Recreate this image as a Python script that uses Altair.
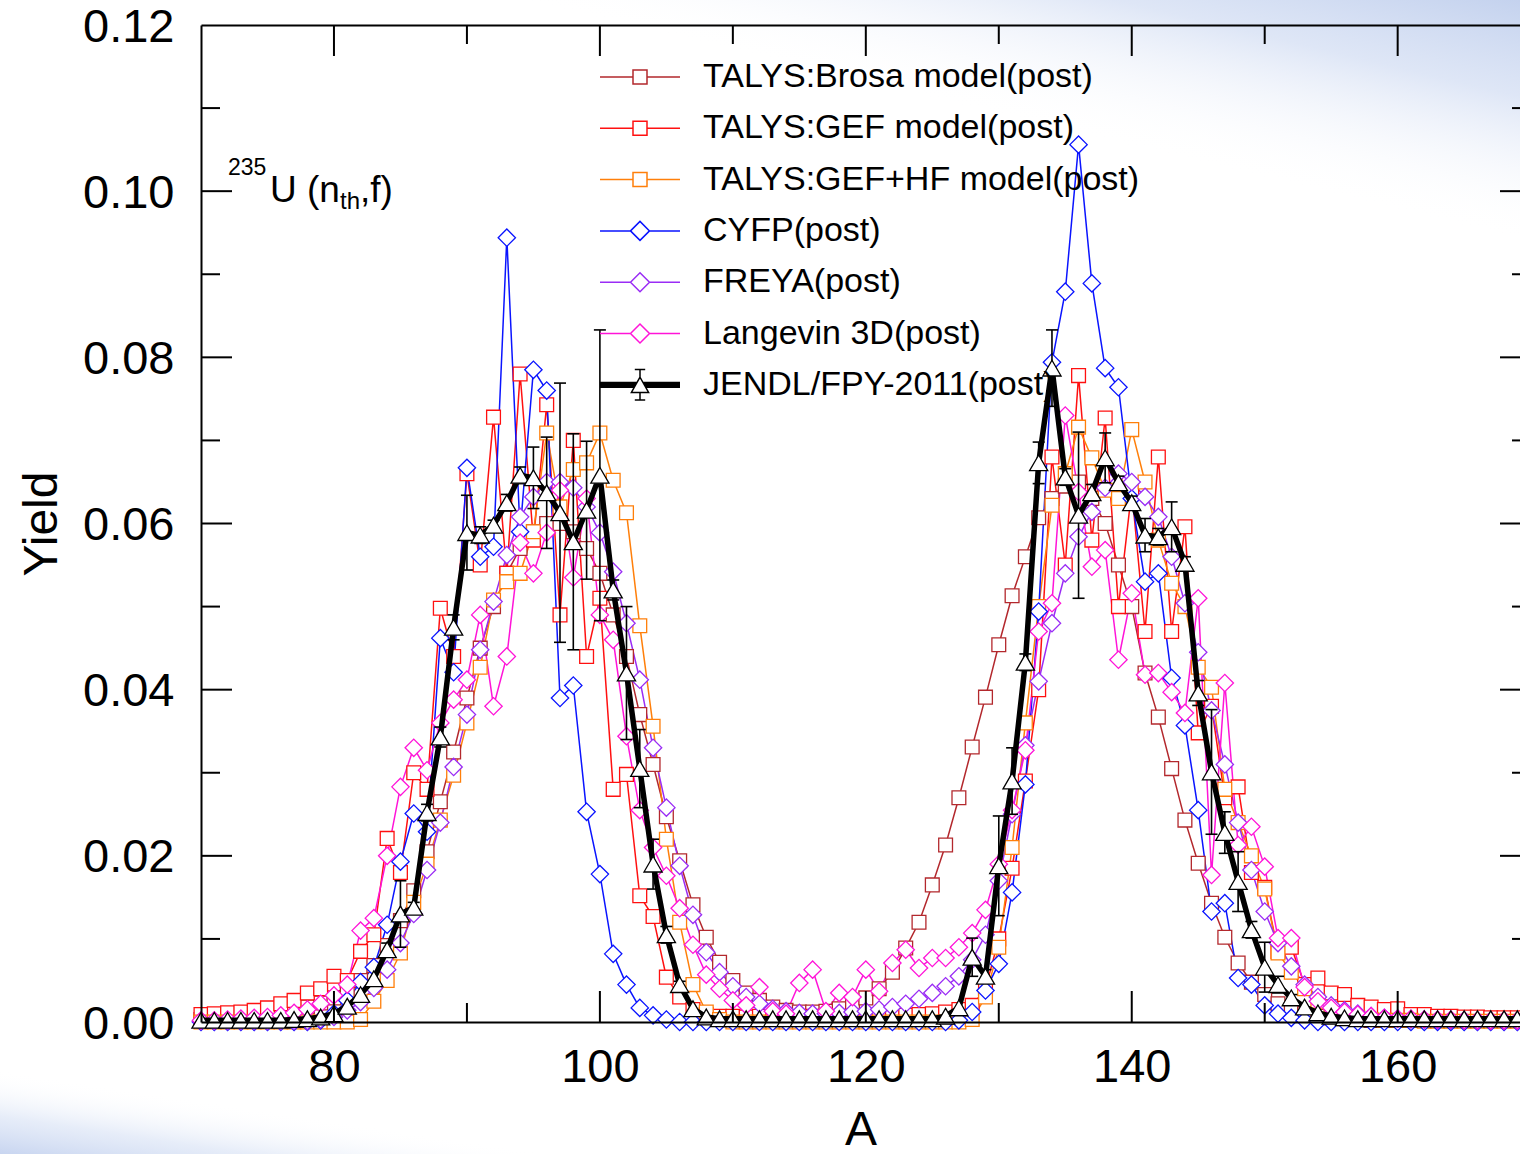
import altair as alt
import pandas as pd

# ---------------- data ----------------
A = list(range(70, 171))

names = [
    "TALYS:Brosa model(post)",
    "TALYS:GEF model(post)",
    "TALYS:GEF+HF model(post)",
    "CYFP(post)",
    "FREYA(post)",
    "Langevin 3D(post)",
    "JENDL/FPY-2011(post)",
]
colors = ["#b3282d", "#ff1010", "#ff7f0a", "#0a14ff", "#9a2cf5", "#ff14d8", "#000000"]

brosa = [
    0.0003, 0.0004, 0.0005, 0.0006, 0.0007, 0.0009, 0.0011, 0.0014, 0.0018, 0.0023,
    0.0029, 0.0038, 0.0050, 0.0068, 0.0092, 0.0122, 0.0158, 0.0205, 0.0265, 0.0325,
    0.0390, 0.0450, 0.0500, 0.0540, 0.0570, 0.0590, 0.0600, 0.0600, 0.0590, 0.0570,
    0.0540, 0.0490, 0.0440, 0.0370, 0.0310, 0.0247, 0.0194, 0.0141, 0.0102, 0.0072,
    0.0050, 0.0035, 0.0026, 0.0018, 0.0014, 0.0012, 0.0012, 0.0013, 0.0016, 0.0021,
    0.0029, 0.0040, 0.0060, 0.0089, 0.0120, 0.0165, 0.0213, 0.0270, 0.0331, 0.0391,
    0.0454, 0.0513, 0.0560, 0.0607, 0.0630, 0.0645, 0.0650, 0.0630, 0.0600, 0.0550,
    0.0500, 0.0420, 0.0367, 0.0305, 0.0243, 0.0191, 0.0143, 0.0102, 0.0071, 0.0048,
    0.0033, 0.0022, 0.0015, 0.0010, 0.0007, 0.0005, 0.0004, 0.0003, 0.0002, 0.0002,
    0.0002, 0.0002, 0.0002, 0.0002, 0.0002, 0.0002, 0.0002, 0.0002, 0.0002, 0.0002,
    0.0002,
]
gef = [
    0.0009, 0.0010, 0.0011, 0.0012, 0.0014, 0.0017, 0.0022, 0.0026, 0.0035, 0.0040,
    0.0055, 0.0050, 0.0085, 0.0105, 0.0221, 0.0180, 0.0300, 0.0280, 0.0498, 0.0440,
    0.0660, 0.0550, 0.0728, 0.0540, 0.0780, 0.0580, 0.0743, 0.0490, 0.0700, 0.0440,
    0.0510, 0.0280, 0.0298, 0.0152, 0.0127, 0.0054, 0.0030, 0.0015, 0.0009, 0.0007,
    0.0007, 0.0006, 0.0007, 0.0006, 0.0007, 0.0006, 0.0007, 0.0006, 0.0007, 0.0007,
    0.0007, 0.0007, 0.0008, 0.0008, 0.0009, 0.0010, 0.0012, 0.0015, 0.0020, 0.0040,
    0.0100, 0.0185, 0.0290, 0.0400, 0.0680, 0.0550, 0.0778, 0.0580, 0.0727, 0.0500,
    0.0640, 0.0470, 0.0680, 0.0470, 0.0596, 0.0348, 0.0380, 0.0270, 0.0283, 0.0180,
    0.0162, 0.0085, 0.0090, 0.0045, 0.0053, 0.0035, 0.0033, 0.0020, 0.0018, 0.0015,
    0.0016, 0.0009, 0.0009, 0.0007, 0.0007, 0.0006, 0.0006, 0.0005, 0.0005, 0.0005,
    0.0005,
]
gefhf = [
    0.0, 0.0, 0.0, 0.0, 0.0, 0.0, 0.0, 0.0, 0.0, 0.0,
    0.0, 0.0, 0.0003, 0.0025, 0.0050, 0.0083, 0.0144, 0.0190, 0.0243, 0.0297,
    0.0360, 0.0427, 0.0508, 0.0530, 0.0540, 0.0590, 0.0709, 0.0620, 0.0665, 0.0673,
    0.0709, 0.0652, 0.0613, 0.0477, 0.0356, 0.0220, 0.0120, 0.0045, 0.0012, 0.0003,
    0.0, 0.0, 0.0, 0.0, 0.0, 0.0, 0.0, 0.0, 0.0, 0.0,
    0.0, 0.0, 0.0, 0.0, 0.0, 0.0, 0.0, 0.0, 0.0003, 0.0030,
    0.0090, 0.0210, 0.0360, 0.0500, 0.0622, 0.0660, 0.0716, 0.0679, 0.0640, 0.0630,
    0.0713, 0.0650, 0.0580, 0.0528, 0.0500, 0.0427, 0.0403, 0.0280, 0.0240, 0.0200,
    0.0160, 0.0083, 0.0060, 0.0040, 0.0025, 0.0015, 0.0009, 0.0005, 0.0003, 0.0002,
    0.0002, 0.0002, 0.0001, 0.0001, 0.0001, 0.0001, 0.0001, 0.0001, 0.0001, 0.0001,
    0.0001,
]
cyfp = [
    0.0, 0.0, 0.0, 0.0, 0.0, 0.0, 0.0, 0.0, 0.0, 0.0002,
    0.0010, 0.0026, 0.0048, 0.0066, 0.0117, 0.0193, 0.0251, 0.0229, 0.0462, 0.0421,
    0.0667, 0.0560, 0.0572, 0.0944, 0.0590, 0.0785, 0.0760, 0.0390, 0.0405, 0.0253,
    0.0178, 0.0082, 0.0045, 0.0017, 0.0008, 0.0003, 0.0, 0.0, 0.0, 0.0,
    0.0, 0.0, 0.0, 0.0, 0.0, 0.0, 0.0, 0.0, 0.0, 0.0,
    0.0, 0.0, 0.0, 0.0, 0.0, 0.0, 0.0, 0.0002, 0.0012, 0.0038,
    0.0070, 0.0156, 0.0286, 0.0494, 0.0794, 0.0879, 0.1056, 0.0889, 0.0787, 0.0764,
    0.0630, 0.0530, 0.0540, 0.0414, 0.0357, 0.0255, 0.0133, 0.0143, 0.0053, 0.0045,
    0.0020, 0.0010, 0.0005, 0.0002, 0.0, 0.0, 0.0, 0.0, 0.0, 0.0,
    0.0, 0.0, 0.0, 0.0, 0.0, 0.0, 0.0, 0.0, 0.0, 0.0,
    0.0,
]
freya = [
    0.0001, 0.0001, 0.0001, 0.0001, 0.0001, 0.0001, 0.0001, 0.0001, 0.0001, 0.0003,
    0.0006, 0.0014, 0.0024, 0.0041, 0.0063, 0.0095, 0.0130, 0.0183, 0.0240, 0.0307,
    0.0370, 0.0448, 0.0506, 0.0562, 0.0608, 0.0632, 0.0650, 0.0650, 0.0643, 0.0620,
    0.0589, 0.0542, 0.0480, 0.0412, 0.0330, 0.0258, 0.0188, 0.0129, 0.0084, 0.0060,
    0.0043, 0.0030, 0.0022, 0.0016, 0.0013, 0.0011, 0.0010, 0.0010, 0.0011, 0.0012,
    0.0013, 0.0015, 0.0018, 0.0022, 0.0028, 0.0035, 0.0043, 0.0055, 0.0075, 0.0105,
    0.0170, 0.0250, 0.0333, 0.0410, 0.0480, 0.0540, 0.0584, 0.0614, 0.0643, 0.0660,
    0.0650, 0.0632, 0.0608, 0.0560, 0.0504, 0.0445, 0.0375, 0.0310, 0.0240, 0.0183,
    0.0133, 0.0095, 0.0067, 0.0045, 0.0030, 0.0020, 0.0014, 0.0010, 0.0007, 0.0005,
    0.0004, 0.0003, 0.0003, 0.0002, 0.0002, 0.0002, 0.0001, 0.0001, 0.0001, 0.0001,
    0.0001,
]
lang = [
    0.0002, 0.0002, 0.0003, 0.0004, 0.0005, 0.0006, 0.0008, 0.0011, 0.0015, 0.0022,
    0.0032, 0.0045, 0.0110, 0.0125, 0.0200, 0.0283, 0.0330, 0.0303, 0.0360, 0.0388,
    0.0412, 0.0490, 0.0380, 0.0440, 0.0577, 0.0540, 0.0589, 0.0640, 0.0535, 0.0630,
    0.0490, 0.0460, 0.0344, 0.0255, 0.0210, 0.0176, 0.0137, 0.0093, 0.0057, 0.0040,
    0.0026, 0.0020, 0.0042, 0.0013, 0.0010, 0.0047, 0.0063, 0.0013, 0.0035, 0.0030,
    0.0063, 0.0037, 0.0071, 0.0087, 0.0065, 0.0077, 0.0077, 0.0090, 0.0107, 0.0135,
    0.0190, 0.0255, 0.0327, 0.0470, 0.0504, 0.0730, 0.0638, 0.0548, 0.0568, 0.0436,
    0.0516, 0.0418, 0.0420, 0.0397, 0.0372, 0.0510, 0.0177, 0.0408, 0.0213, 0.0235,
    0.0187, 0.0101, 0.0101, 0.0042, 0.0025, 0.0017, 0.0012, 0.0009, 0.0007, 0.0005,
    0.0004, 0.0004, 0.0003, 0.0003, 0.0003, 0.0002, 0.0002, 0.0002, 0.0002, 0.0002,
    0.0002,
]
jendl = [
    0.0002, 0.0002, 0.0002, 0.0002, 0.0002, 0.0002, 0.0002, 0.0003, 0.0004, 0.0006,
    0.0010, 0.0019, 0.0033, 0.0052, 0.0087, 0.0130, 0.0138, 0.0252, 0.0343, 0.0475,
    0.0589, 0.0586, 0.0598, 0.0625, 0.0658, 0.0655, 0.0637, 0.0613, 0.0578, 0.0616,
    0.0658, 0.0520, 0.0420, 0.0305, 0.0190, 0.0105, 0.0045, 0.0016, 0.0006, 0.0004,
    0.0004, 0.0004, 0.0004, 0.0004, 0.0004, 0.0004, 0.0004, 0.0004, 0.0004, 0.0004,
    0.0004, 0.0004, 0.0004, 0.0004, 0.0004, 0.0004, 0.0007, 0.0017, 0.0078, 0.0055,
    0.0188, 0.0290, 0.0433, 0.0673, 0.0787, 0.0656, 0.0610, 0.0637, 0.0679, 0.0649,
    0.0625, 0.0586, 0.0584, 0.0596, 0.0552, 0.0396, 0.0301, 0.0228, 0.0169, 0.0111,
    0.0066, 0.0045, 0.0029, 0.0018, 0.0011, 0.0007, 0.0005, 0.0004, 0.0004, 0.0004,
    0.0004, 0.0004, 0.0004, 0.0004, 0.0004, 0.0004, 0.0004, 0.0004, 0.0004, 0.0004,
    0.0004,
]
jendl_err = [
    0.0, 0.0, 0.0, 0.0, 0.0, 0.0, 0.0, 0.0, 0.0, 0.0,
    0.0, 0.0, 0.0, 0.0, 0.0008, 0.0040, 0.0006, 0.0010, 0.0012, 0.0015,
    0.0045, 0.0010, 0.0006, 0.0010, 0.0010, 0.0037, 0.0067, 0.0156, 0.0130, 0.0083,
    0.0175, 0.0012, 0.0080, 0.0047, 0.0030, 0.0010, 0.0004, 0.0, 0.0, 0.0,
    0.0, 0.0, 0.0, 0.0, 0.0, 0.0, 0.0, 0.0, 0.0, 0.0,
    0.0, 0.0, 0.0, 0.0, 0.0, 0.0, 0.0, 0.0, 0.0023, 0.0008,
    0.0060, 0.0040, 0.0010, 0.0025, 0.0046, 0.0010, 0.0100, 0.0010, 0.0030, 0.0008,
    0.0008, 0.0020, 0.0010, 0.0030, 0.0008, 0.0015, 0.0075, 0.0025, 0.0036, 0.0010,
    0.0030, 0.0010, 0.0004, 0.0, 0.0, 0.0, 0.0, 0.0, 0.0, 0.0,
    0.0, 0.0, 0.0, 0.0, 0.0, 0.0, 0.0, 0.0, 0.0, 0.0,
    0.0,
]

x_ticks_major = [80, 100, 120, 140, 160]
x_ticks_minor = [90, 110, 130, 150]
y_ticks_major = [0.02, 0.04, 0.06, 0.08, 0.10]
y_ticks_minor = [0.01, 0.03, 0.05, 0.07, 0.09, 0.11]
y_labels = [0.0, 0.02, 0.04, 0.06, 0.08, 0.10, 0.12]

# ---------------- tables ----------------
rows = []
for nm, vals in zip(names[:6], [brosa, gef, gefhf, cyfp, freya, lang]):
    for a, v in zip(A, vals):
        rows.append({"A": a, "Yield": v, "series": nm})
models = pd.DataFrame(rows)

jdf = pd.DataFrame({"A": A, "Yield": jendl, "err": jendl_err})
jdf["lo"] = jdf["Yield"] - jdf["err"]
jdf["hi"] = jdf["Yield"] + jdf["err"]
jerr = jdf[jdf["err"] > 0].reset_index(drop=True)

W, H = 1319, 997
FONT = "Liberation Sans"
xs = alt.Scale(domain=[70, 169.2], nice=False, zero=False)
ys = alt.Scale(domain=[0, 0.12], nice=False, zero=False)
col_scale = alt.Scale(domain=names[:6], range=colors[:6])

# ---------------- slide background wash ----------------
one = pd.DataFrame({"k": [0]})
bg_white = alt.Chart(one).mark_rect(fill="white").encode(
    x=alt.value(-201), x2=alt.value(W), y=alt.value(-25), y2=alt.value(H + 132))
bg_tr = alt.Chart(one).mark_rect(
    fill=alt.LinearGradient(
        gradient="linear",
        stops=[
            alt.GradientStop(color="rgba(196,210,238,1)", offset=0.0),
            alt.GradientStop(color="rgba(214,224,244,0.8)", offset=0.4),
            alt.GradientStop(color="rgba(255,255,255,0)", offset=1.0),
        ],
        x1=1, y1=0, x2=0.94, y2=0.19,
    )
).encode(x=alt.value(-201), x2=alt.value(W), y=alt.value(-25), y2=alt.value(H + 132))
bg_bl = alt.Chart(one).mark_rect(
    fill=alt.LinearGradient(
        gradient="linear",
        stops=[
            alt.GradientStop(color="rgba(200,213,240,1)", offset=0.0),
            alt.GradientStop(color="rgba(220,229,246,0.7)", offset=0.45),
            alt.GradientStop(color="rgba(255,255,255,0)", offset=1.0),
        ],
        x1=0, y1=1, x2=0.014, y2=0.93,
    )
).encode(x=alt.value(-201), x2=alt.value(W), y=alt.value(-25), y2=alt.value(H + 132))

# ---------------- model lines (carry the main axes) ----------------
lines = alt.Chart(models).mark_line(strokeWidth=1.5).encode(
    x=alt.X("A:Q", scale=xs, axis=alt.Axis(
        orient="bottom", values=x_ticks_major, format="d", title="A", zindex=1,
        ticks=False, tickSize=0, grid=False, domainColor="black", domainWidth=2,
        labelFont=FONT, labelFontSize=47, labelColor="black", labelPadding=22,
        titleFont=FONT, titleFontSize=48, titleFontWeight="normal", titleColor="black",
        titlePadding=16)),
    y=alt.Y("Yield:Q", scale=ys, axis=alt.Axis(
        orient="left", values=y_labels, format=".2f", title="Yield", zindex=1,
        ticks=False, tickSize=0, grid=False, domainColor="black", domainWidth=2,
        labelFont=FONT, labelFontSize=47, labelColor="black", labelPadding=27,
        labelOffset=2,
        titleFont=FONT, titleFontSize=48, titleFontWeight="normal", titleColor="black",
        titlePadding=16)),
    color=alt.Color("series:N", scale=col_scale, legend=None),
    order="A:Q",
)

sq = alt.Chart(models).transform_filter(
    alt.FieldOneOfPredicate(field="series", oneOf=names[:3])
).mark_point(shape="square", size=190, filled=True, fill="white", opacity=1, strokeWidth=1.3).encode(
    x=alt.X("A:Q", scale=xs, axis=None),
    y=alt.Y("Yield:Q", scale=ys, axis=None),
    stroke=alt.Stroke("series:N", scale=col_scale, legend=None),
)
dm = alt.Chart(models).transform_filter(
    alt.FieldOneOfPredicate(field="series", oneOf=names[3:6])
).mark_point(shape="diamond", size=300, filled=True, fill="white", opacity=1, strokeWidth=1.3).encode(
    x=alt.X("A:Q", scale=xs, axis=None),
    y=alt.Y("Yield:Q", scale=ys, axis=None),
    stroke=alt.Stroke("series:N", scale=col_scale, legend=None),
)

# ---------------- JENDL ----------------
j_err = alt.Chart(jerr).mark_rule(color="black", strokeWidth=1.6).encode(
    x=alt.X("A:Q", scale=xs, axis=None), y=alt.Y("lo:Q", scale=ys, axis=None), y2="hi:Q")
j_cap_lo = alt.Chart(jerr).mark_tick(orient="horizontal", color="black", thickness=1.6, size=12, opacity=1).encode(
    x=alt.X("A:Q", scale=xs, axis=None), y=alt.Y("lo:Q", scale=ys, axis=None))
j_cap_hi = alt.Chart(jerr).mark_tick(orient="horizontal", color="black", thickness=1.6, size=12, opacity=1).encode(
    x=alt.X("A:Q", scale=xs, axis=None), y=alt.Y("hi:Q", scale=ys, axis=None))
j_line = alt.Chart(jdf).mark_line(color="black", strokeWidth=5.5).encode(
    x=alt.X("A:Q", scale=xs, axis=None), y=alt.Y("Yield:Q", scale=ys, axis=None), order="A:Q")
j_pts = alt.Chart(jdf).mark_point(shape="triangle-up", size=330, filled=True, fill="white",
                                  stroke="black", strokeWidth=1.3, opacity=1).encode(
    x=alt.X("A:Q", scale=xs, axis=None), y=alt.Y("Yield:Q", scale=ys, axis=None))

# ---------------- legend (library legend with line+marker symbols) ----------------
# symbol paths in units of 20 px (symbolSize 1600): line spans +-2 units = 80 px
sq_path = "M-2,0H-0.35M0.35,0H2M-0.35,-0.35H0.35V0.35H-0.35Z"
dm_path = "M-2,0H-0.475M0.475,0H2M-0.475,0L0,-0.475L0.475,0L0,0.475Z"
tri_path = ("M0,-0.38L-0.43,0.38L0.43,0.38Z"
            "M-2,-0.12H-0.15M0.15,-0.12H2"
            "M-2,-0.06H-0.18M0.18,-0.06H2"
            "M-2,0H-0.215M0.215,0H2"
            "M-2,0.06H-0.25M0.25,0.06H2"
            "M-2,0.12H-0.285M0.285,0.12H2"
            "M0,-0.38V-0.76M-0.26,-0.76H0.26M0,0.38V0.76M-0.26,0.76H0.26")
leg_shapes = [sq_path, sq_path, sq_path, dm_path, dm_path, dm_path, tri_path]
leg_df = pd.DataFrame({"series": names, "A": [70] * 7, "Yield": [0.0] * 7})
leg_common = dict(
    title=None, orient="none", legendX=418, legendY=31, direction="vertical",
    symbolSize=1600, symbolStrokeWidth=1.5, symbolFillColor="transparent",
    labelFont=FONT, labelFontSize=34, labelColor="black", labelOffset=42,
    labelLimit=0, rowPadding=13.3, padding=0, symbolOpacity=1,
)
legend_layer = alt.Chart(leg_df).transform_filter("false").mark_point(
    filled=False, opacity=1, strokeWidth=1.5).encode(
    x=alt.X("A:Q", scale=xs, axis=None),
    y=alt.Y("Yield:Q", scale=ys, axis=None),
    color=alt.Color("series:N", scale=alt.Scale(domain=names, range=colors),
                    legend=alt.Legend(**leg_common)),
    shape=alt.Shape("series:N", scale=alt.Scale(domain=names, range=leg_shapes),
                    legend=alt.Legend(**leg_common)),
)

# ---------------- inward tick marks + top frame ----------------
def tick_df(vals):
    return pd.DataFrame({"v": vals})

top_frame = alt.Chart(tick_df(x_ticks_major)).mark_rule(color="black", strokeWidth=2).encode(
    x=alt.X("v:Q", scale=xs, axis=alt.Axis(orient="top", labels=False, ticks=False, tickSize=0, zindex=1,
                                            title=None, grid=False, domainColor="black", domainWidth=2)),
    y=alt.value(0), y2=alt.value(31))
top_minor = alt.Chart(tick_df(x_ticks_minor)).mark_rule(color="black", strokeWidth=2).encode(
    x=alt.X("v:Q", scale=xs, axis=None), y=alt.value(0), y2=alt.value(19))
bot_major = alt.Chart(tick_df(x_ticks_major)).mark_rule(color="black", strokeWidth=2).encode(
    x=alt.X("v:Q", scale=xs, axis=None), y=alt.value(H), y2=alt.value(H - 31))
bot_minor = alt.Chart(tick_df(x_ticks_minor)).mark_rule(color="black", strokeWidth=2).encode(
    x=alt.X("v:Q", scale=xs, axis=None), y=alt.value(H), y2=alt.value(H - 19))
left_major = alt.Chart(tick_df(y_ticks_major)).mark_rule(color="black", strokeWidth=2).encode(
    y=alt.Y("v:Q", scale=ys, axis=None), x=alt.value(0), x2=alt.value(31))
left_minor = alt.Chart(tick_df(y_ticks_minor)).mark_rule(color="black", strokeWidth=2).encode(
    y=alt.Y("v:Q", scale=ys, axis=None), x=alt.value(0), x2=alt.value(19))
right_major = alt.Chart(tick_df(y_ticks_major)).mark_rule(color="black", strokeWidth=2).encode(
    y=alt.Y("v:Q", scale=ys, axis=None), x=alt.value(W), x2=alt.value(W - 20))
right_minor = alt.Chart(tick_df(y_ticks_minor)).mark_rule(color="black", strokeWidth=2).encode(
    y=alt.Y("v:Q", scale=ys, axis=None), x=alt.value(W), x2=alt.value(W - 8))

# ---------------- reaction label 235U (n_th,f) ----------------
def label(txt, x, y, size):
    return alt.Chart(pd.DataFrame({"t": [txt]})).mark_text(
        font=FONT, fontSize=size, color="black", align="left", baseline="alphabetic"
    ).encode(text="t:N", x=alt.value(x), y=alt.value(y))

lab = (label("235", 27, 150, 23) + label("U (n", 69, 177, 37)
       + label("th", 139, 184, 24) + label(",f)", 159, 177, 37))

chart = alt.layer(
    bg_white, bg_tr, bg_bl, lines, sq, dm, j_err, j_cap_lo, j_cap_hi, j_line, j_pts,
    top_frame, top_minor, bot_major, bot_minor, left_major, left_minor, right_major, right_minor,
    lab, legend_layer,
).resolve_scale(
    color="independent", shape="independent", stroke="independent"
).resolve_axis(
    x="independent", y="independent"
).properties(
    width=W, height=H,
    autosize=alt.AutoSizeParams(type="none"),
    padding={"left": 201, "top": 25, "right": 0, "bottom": 132},
    background="white",
).configure_view(stroke=None).configure_axis(grid=False)

chart.save("out.html", embed_options={"renderer": "svg", "actions": False})
